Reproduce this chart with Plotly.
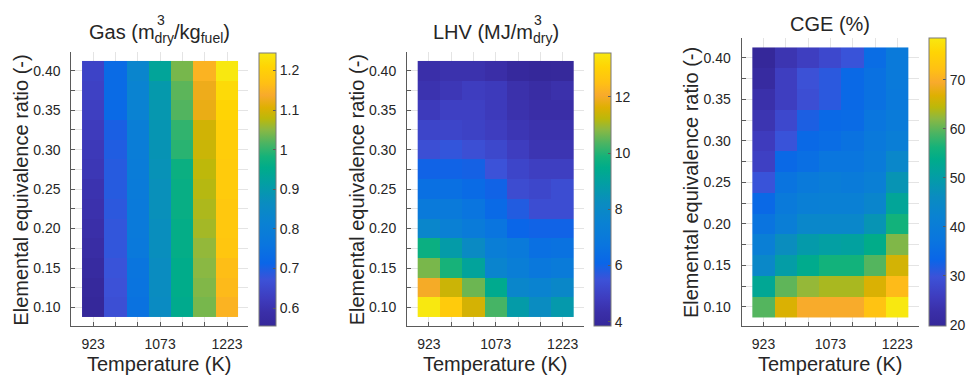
import plotly.graph_objects as go

# Gasification temperature (K) and elemental equivalence ratio (-)
temperature_k = [923, 973, 1023, 1073, 1123, 1173, 1223]
temperature_labels = ["923", "", "", "1073", "", "", "1223"]
equivalence_ratio = [0.400, 0.375, 0.350, 0.325, 0.300, 0.275, 0.250,
                     0.225, 0.200, 0.175, 0.150, 0.125, 0.100]
er_labels = ["0.40", "", "0.35", "", "0.30", "", "0.25",
             "", "0.20", "", "0.15", "", "0.10"]

# Dry gas yield (m3 dry / kg fuel); one row per equivalence ratio
gas_yield = [
    [0.640, 0.730, 0.830, 0.930, 1.040, 1.150, 1.244],
    [0.635, 0.730, 0.820, 0.900, 1.025, 1.125, 1.220],
    [0.630, 0.725, 0.815, 0.895, 1.020, 1.120, 1.210],
    [0.620, 0.700, 0.800, 0.890, 1.000, 1.095, 1.200],
    [0.615, 0.695, 0.795, 0.885, 0.995, 1.090, 1.195],
    [0.610, 0.690, 0.790, 0.880, 0.970, 1.080, 1.190],
    [0.600, 0.690, 0.785, 0.875, 0.965, 1.075, 1.190],
    [0.595, 0.685, 0.780, 0.875, 0.965, 1.070, 1.185],
    [0.590, 0.680, 0.780, 0.870, 0.960, 1.065, 1.185],
    [0.580, 0.680, 0.775, 0.870, 0.960, 1.055, 1.180],
    [0.570, 0.675, 0.760, 0.865, 0.955, 1.050, 1.165],
    [0.560, 0.670, 0.755, 0.865, 0.955, 1.045, 1.160],
    [0.555, 0.665, 0.750, 0.860, 0.950, 1.040, 1.150],
]

# Lower heating value of the dry gas (MJ / m3 dry)
lhv = [
    [4.35, 4.45, 4.45, 4.30, 3.95, 3.85, 3.90],
    [4.50, 4.65, 4.85, 4.75, 4.40, 4.20, 4.40],
    [4.75, 4.95, 4.95, 4.75, 4.45, 4.30, 4.30],
    [5.10, 5.10, 5.00, 4.85, 4.60, 4.45, 4.45],
    [5.40, 5.60, 5.40, 5.20, 4.85, 4.55, 4.55],
    [6.00, 6.00, 5.95, 5.50, 5.10, 4.90, 4.90],
    [6.50, 6.50, 6.30, 6.00, 5.30, 5.15, 5.35],
    [7.00, 7.00, 6.70, 6.25, 5.80, 5.35, 5.35],
    [7.80, 7.40, 7.10, 6.70, 6.10, 6.00, 6.00],
    [9.70, 8.80, 8.10, 7.30, 7.00, 6.50, 6.60],
    [10.70, 9.90, 9.10, 7.70, 7.30, 6.90, 7.10],
    [12.00, 11.40, 10.60, 9.40, 7.80, 7.60, 7.90],
    [13.56, 12.80, 11.50, 10.30, 8.80, 8.20, 8.70],
]

# Cold gas efficiency (%)
cge = [
    [19.8, 24.0, 26.0, 28.0, 30.0, 35.0, 39.0],
    [21.0, 26.0, 29.5, 31.0, 34.0, 36.0, 39.0],
    [23.0, 26.0, 29.0, 31.0, 34.0, 36.0, 38.5],
    [24.0, 28.0, 32.0, 34.0, 34.5, 37.5, 39.5],
    [25.5, 30.0, 34.0, 35.0, 36.5, 38.5, 40.5],
    [26.5, 34.0, 35.5, 37.5, 37.5, 39.5, 44.0],
    [30.0, 37.0, 39.0, 40.0, 39.5, 41.0, 48.0],
    [34.0, 39.0, 41.0, 41.5, 41.5, 43.5, 52.0],
    [37.0, 40.5, 44.0, 44.0, 44.0, 48.0, 56.0],
    [41.0, 46.5, 49.5, 50.5, 51.0, 54.0, 61.5],
    [44.5, 50.0, 53.5, 56.0, 56.0, 59.5, 66.0],
    [52.5, 60.0, 62.5, 63.5, 63.5, 66.5, 71.5],
    [59.5, 66.5, 69.5, 69.5, 69.5, 72.5, 78.5],
]

gas_cb_ticks = [0.6, 0.7, 0.8, 0.9, 1.0, 1.1, 1.2]
gas_cb_labels = ["0.6", "0.7", "0.8", "0.9", "1", "1.1", "1.2"]
lhv_cb_ticks = [4, 6, 8, 10, 12]
lhv_cb_labels = ["4", "6", "8", "10", "12"]
cge_cb_ticks = [20, 30, 40, 50, 60, 70]
cge_cb_labels = ["20", "30", "40", "50", "60", "70"]

# Parula-style colour ramp (deep purple -> blue -> teal -> green -> orange -> yellow)
parula_scale = [
    [0.00, "#35289a"],
    [0.05, "#3a2fa8"],
    [0.10, "#3e3cbe"],
    [0.17, "#3c52d8"],
    [0.23, "#0a66e8"],
    [0.30, "#0a76de"],
    [0.38, "#0a82d2"],
    [0.45, "#0a8cc0"],
    [0.52, "#039ea4"],
    [0.58, "#00ac8a"],
    [0.62, "#14b27a"],
    [0.67, "#4cb462"],
    [0.72, "#8cb842"],
    [0.76, "#bcb80a"],
    [0.80, "#deb002"],
    [0.845, "#f8aa2c"],
    [0.89, "#ffc014"],
    [0.95, "#ffd404"],
    [1.00, "#f8e810"],
]

W, H = 969, 378
FONT = "Liberation Sans, Arial, sans-serif"
TEXT = "#262626"
AXIS = "#5a5a5a"
GRID = "#e4e4e4"
TITLE_SIZE = 20
SCRIPT_SIZE = 14

# Arial / Liberation Sans advance widths (em) for the glyphs used in the titles
GLYPH_EM = {
    "G": 0.778, "a": 0.556, "s": 0.5, " ": 0.278, "(": 0.333, ")": 0.333,
    "m": 0.833, "d": 0.556, "r": 0.333, "y": 0.5, "/": 0.278, "k": 0.5,
    "g": 0.556, "f": 0.278, "u": 0.556, "e": 0.556, "l": 0.222,
    "L": 0.556, "H": 0.722, "V": 0.667, "M": 0.833, "J": 0.5,
    "C": 0.722, "E": 0.667, "%": 0.889,
}


def text_width(s, size):
    return sum(GLYPH_EM.get(c, 0.556) for c in s) * size


def px_x(p):
    return p / W


def px_y(p):
    return 1 - p / H


# panel geometry in pixels: axis box edges, colorbar left/top edges, title centre line
panels = [
    dict(x0=71.4, x1=248.7, y0=51.5, y1=326.0, cb_x=259.0, cb_top=53.0, title_y=33.5),
    dict(x0=407.4, x1=584.7, y0=51.5, y1=326.0, cb_x=594.0, cb_top=53.0, title_y=33.5),
    dict(x0=742.4, x1=919.7, y0=37.5, y1=326.3, cb_x=929.3, cb_top=38.0, title_y=23.5),
]
datasets = [
    (gas_yield, gas_cb_ticks, gas_cb_labels),
    (lhv, lhv_cb_ticks, lhv_cb_labels),
    (cge, cge_cb_ticks, cge_cb_labels),
]
# title pieces: (text, is_subscript); a superscript "3" sits above the first subscript
titles = [
    [("Gas (m", False), ("dry", True), ("/kg", False), ("fuel", True), (")", False)],
    [("LHV (MJ/m", False), ("dry", True), (")", False)],
    [("CGE (%)", False)],
]

fig = go.Figure()
layout = dict(
    width=W, height=H,
    margin=dict(l=0, r=0, t=0, b=0),
    paper_bgcolor="white", plot_bgcolor="white",
    font=dict(family=FONT, color=TEXT, size=14),
    showlegend=False,
    annotations=[],
)

tick_font = dict(family=FONT, size=14, color=TEXT)
label_font = dict(family=FONT, size=TITLE_SIZE, color=TEXT)

for i, (geo, (z, cb_ticks, cb_labels), pieces) in enumerate(zip(panels, datasets, titles)):
    suffix = "" if i == 0 else str(i + 1)
    fig.add_trace(go.Heatmap(
        x=temperature_k, y=equivalence_ratio, z=z,
        colorscale=parula_scale,
        xaxis="x" + suffix, yaxis="y" + suffix,
        colorbar=dict(
            x=px_x(geo["cb_x"]), xanchor="left", xpad=0, ypad=0,
            y=px_y(326.0), yanchor="bottom",
            lenmode="fraction", len=(326.0 - geo["cb_top"]) / H,
            thickness=17, outlinewidth=1, outlinecolor="#7a7a7a",
            ticks="inside", ticklen=3, tickcolor=AXIS,
            tickvals=cb_ticks, ticktext=cb_labels,
            tickfont=tick_font,
        ),
        hoverinfo="skip",
    ))
    layout["xaxis" + suffix] = dict(
        domain=[px_x(geo["x0"]), px_x(geo["x1"])],
        anchor="y" + suffix,
        range=[874, 1271],
        tickmode="array", tickvals=temperature_k, ticktext=temperature_labels,
        ticks="inside", ticklen=4, tickwidth=1, tickcolor=AXIS,
        showline=True, linecolor=AXIS, linewidth=1, mirror=False,
        showgrid=True, gridcolor=GRID, gridwidth=1, zeroline=False,
        tickfont=tick_font, ticklabelstandoff=5,
    )
    layout["yaxis" + suffix] = dict(
        domain=[px_y(geo["y1"]), px_y(geo["y0"])],
        anchor="x" + suffix,
        range=[0.0765, 0.4245],
        tickmode="array", tickvals=equivalence_ratio, ticktext=er_labels,
        ticks="inside", ticklen=4, tickwidth=1, tickcolor=AXIS,
        showline=True, linecolor=AXIS, linewidth=1, mirror=False,
        showgrid=True, gridcolor=GRID, gridwidth=1, zeroline=False,
        tickfont=tick_font, ticklabelstandoff=7,
    )
    cx = (geo["x0"] + geo["x1"]) / 2
    cy = (geo["y0"] + geo["y1"]) / 2
    title_y = geo["title_y"]

    # panel title, with the "3" stacked over the "dry" subscript
    title_html = "".join("<sub>%s</sub>" % t if sub else t for t, sub in pieces)
    widths = [text_width(t, SCRIPT_SIZE if sub else TITLE_SIZE) for t, sub in pieces]
    left = cx - sum(widths) / 2
    layout["annotations"].append(dict(
        text=title_html, x=px_x(cx), y=px_y(title_y), xref="paper", yref="paper",
        xanchor="center", yanchor="middle", showarrow=False, font=label_font))
    if len(pieces) > 1:
        sup_x = left + widths[0]
        layout["annotations"].append(dict(
            text="3", x=px_x(sup_x), y=px_y(title_y - 14), xref="paper", yref="paper",
            xanchor="left", yanchor="middle", showarrow=False,
            font=dict(family=FONT, size=SCRIPT_SIZE, color=TEXT)))

    layout["annotations"] += [
        dict(text="Elemental equivalence ratio (-)", textangle=-90,
             x=px_x(geo["x0"] - 50.5), y=px_y(cy + 1), xref="paper", yref="paper",
             xanchor="center", yanchor="middle", showarrow=False, font=label_font),
        dict(text="Temperature (K)", x=px_x(cx), y=px_y(363.5), xref="paper", yref="paper",
             xanchor="center", yanchor="middle", showarrow=False, font=label_font),
    ]

fig.update_layout(**layout)
fig.write_html("out.html")
